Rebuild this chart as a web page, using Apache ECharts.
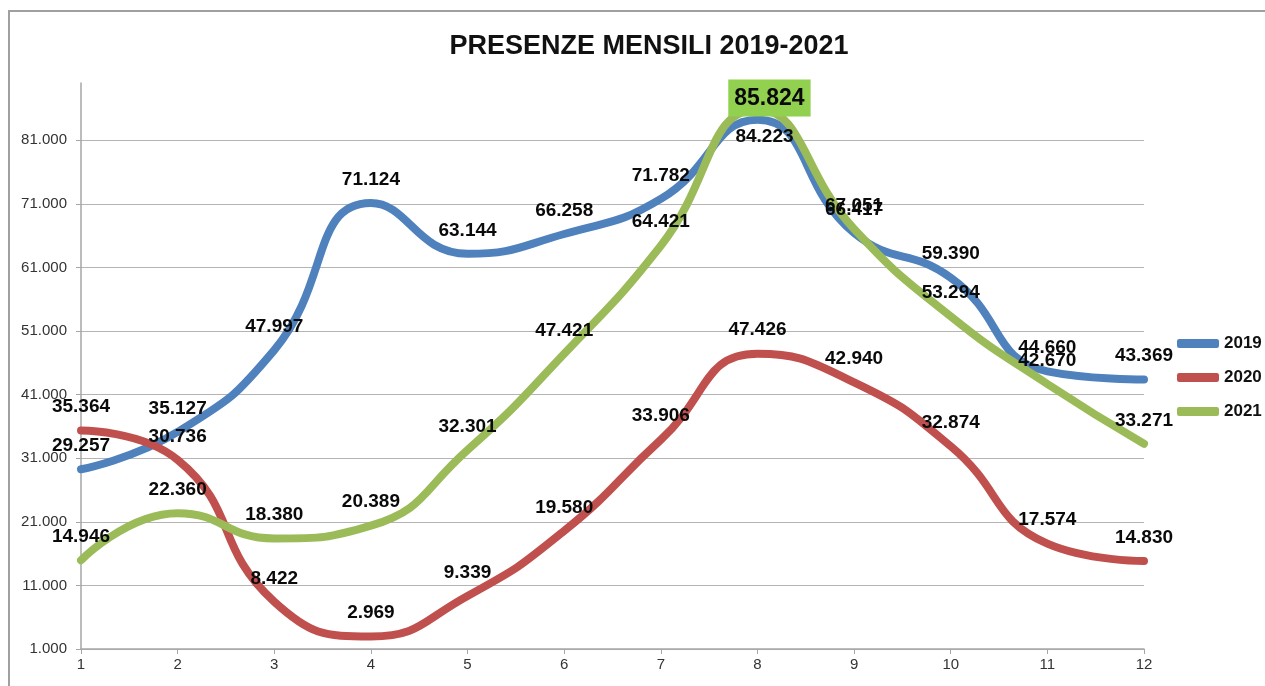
<!DOCTYPE html>
<html>
<head>
<meta charset="utf-8">
<title>Presenze mensili 2019-2021</title>
<script src="https://cdn.jsdelivr.net/npm/echarts@6/dist/echarts.min.js"></script>
<style>
html,body{margin:0;padding:0;background:#fff;}
#chart{width:1265px;height:686px;}
</style>
</head>
<body>
<div id="chart"></div>
<script>
// mesi e valori
var mesi = ['1','2','3','4','5','6','7','8','9','10','11','12'];
var anni = ['2019','2020','2021'];
var presenze2019 = [29257, 35127, 47997, 71124, 63144, 66258, 71782, 84223, 66417, 59390, 44660, 43369];
var presenze2020 = [35364, 30736, 8422, 2969, 9339, 19580, 33906, 47426, 42940, 32874, 17574, 14830];
var presenze2021 = [14946, 22360, 18380, 20389, 32301, 47421, 64421, 85824, 67051, 53294, 42670, 33271];
var colori = ['#4F81BD', '#C0504D', '#9BBB59'];

function formatNum(v){
	return String(v).replace(/\B(?=(\d{3})+(?!\d))/g, '.');
}

// etichette spostate a mano come nell'originale (picco di agosto)
var ritocchi = {
	'2019': {7: {position: 'bottom', distance: 4, offset: [7, 4]}},
	'2021': {7: {
		distance: 0, offset: [12, 7],
		fontSize: 23, padding: [8, 6, 6, 6],
		backgroundColor: '#92D050'
	}}
};

function buildData(anno, valori){
	var out = [];
	for (var i = 0; i < valori.length; i++) {
		var item = {value: valori[i]};
		if (ritocchi[anno] && ritocchi[anno][i]) {
			item.label = ritocchi[anno][i];
		}
		out.push(item);
	}
	return out;
}

var valoriPerAnno = [presenze2019, presenze2020, presenze2021];
var serie = [];
for (var s = 0; s < anni.length; s++) {
	serie.push({
		name: anni[s],
		type: 'line',
		smooth: 0.5,
		symbol: 'circle',
		symbolSize: 0,
		lineStyle: {width: 8, color: colori[s], cap: 'round'},
		itemStyle: {color: colori[s]},
		label: {
			show: true,
			position: 'top',
			distance: 14,
			color: '#0a0a0a',
			fontFamily: 'Liberation Sans',
			fontWeight: 'bold',
			fontSize: 19,
			formatter: function(p){ return formatNum(p.value); }
		},
		data: buildData(anni[s], valoriPerAnno[s])
	});
}

var myChart = echarts.init(document.getElementById('chart'));
var option = {
	animation: false,
	backgroundColor: '#fff',
	graphic: [{
		type: 'rect',
		shape: {x: 9, y: 11, width: 1400, height: 800},
		style: {fill: 'none', stroke: '#a0a0a0', lineWidth: 2},
		silent: true
	}],
	title: {
		text: 'PRESENZE MENSILI 2019-2021',
		left: 644,
		textAlign: 'center',
		top: 28,
		textStyle: {
			fontFamily: 'Liberation Sans',
			fontWeight: 'bold',
			fontSize: 27,
			color: '#111'
		}
	},
	legend: {
		data: anni,
		orient: 'vertical',
		left: 1172,
		top: 330,
		itemWidth: 42,
		itemHeight: 9,
		itemGap: 17,
		icon: 'roundRect',
		textStyle: {
			fontFamily: 'Liberation Sans',
			fontWeight: 'bold',
			fontSize: 17,
			color: '#111'
		}
	},
	grid: {left: 81, right: 121, top: 83, bottom: 37},
	xAxis: {
		type: 'category',
		data: mesi,
		boundaryGap: false,
		axisLine: {lineStyle: {color: '#a6a6a6', width: 1.5}},
		axisTick: {show: true, length: 5, lineStyle: {color: '#a6a6a6'}},
		axisLabel: {
			margin: 8,
			color: '#333',
			fontFamily: 'Liberation Sans',
			fontSize: 15
		},
		splitLine: {show: false}
	},
	yAxis: {
		type: 'value',
		min: 1000,
		max: 90000,
		interval: 10000,
		axisLine: {show: true, lineStyle: {color: '#a6a6a6', width: 1.5}},
		axisTick: {show: true, length: 5, lineStyle: {color: '#a6a6a6'}},
		axisLabel: {
			margin: 14,
			color: '#333',
			fontFamily: 'Liberation Sans',
			fontSize: 15,
			showMaxLabel: false,
			formatter: function(v){ return formatNum(v); }
		},
		splitLine: {show: true, showMaxLine: false, lineStyle: {color: '#b4b4b4', width: 1.2}}
	},
	series: serie
};
myChart.setOption(option);
</script>
</body>
</html>
